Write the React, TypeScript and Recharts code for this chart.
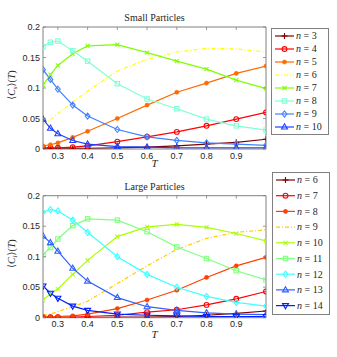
import React from 'react';
import { LineChart, Line, XAxis, YAxis, Legend } from 'recharts';

const T = [0.25, 0.275, 0.3, 0.35, 0.4, 0.5, 0.6, 0.7, 0.8, 0.9, 1.0];
const xTicks = [0.3, 0.4, 0.5, 0.6, 0.7, 0.8, 0.9];
const yTicks = [0, 0.05, 0.1, 0.15, 0.2];

// Small particles
const s3 = [0.001, 0.001, 0.001, 0.001, 0.001, 0.002, 0.003, 0.005, 0.008, 0.011, 0.016];
const s4 = [0.002, 0.002, 0.002, 0.003, 0.005, 0.012, 0.020, 0.028, 0.038, 0.049, 0.060];
const s5 = [0.005, 0.007, 0.010, 0.019, 0.029, 0.050, 0.072, 0.093, 0.108, 0.124, 0.136];
const s6 = [0.040, 0.048, 0.058, 0.077, 0.095, 0.128, 0.147, 0.159, 0.165, 0.164, 0.159];
const s7 = [0.105, 0.122, 0.137, 0.156, 0.169, 0.171, 0.158, 0.144, 0.131, 0.113, 0.099];
const s8 = [0.168, 0.175, 0.177, 0.161, 0.144, 0.107, 0.082, 0.066, 0.049, 0.038, 0.031];
const s9 = [0.130, 0.114, 0.098, 0.072, 0.054, 0.032, 0.020, 0.014, 0.010, 0.008, 0.006];
const s10 = [0.049, 0.034, 0.025, 0.014, 0.008, 0.004, 0.003, 0.002, 0.002, 0.002, 0.002];

// Large particles
const l6 = [0, 0, 0, 0, 0, 0.001, 0.001, 0.002, 0.004, 0.007, 0.011];
const l7 = [0.001, 0.001, 0.001, 0.001, 0.002, 0.004, 0.009, 0.013, 0.021, 0.031, 0.043];
const l8 = [0.001, 0.001, 0.002, 0.003, 0.006, 0.015, 0.029, 0.045, 0.066, 0.085, 0.099];
const l9 = [0.004, 0.006, 0.010, 0.018, 0.027, 0.056, 0.085, 0.112, 0.130, 0.140, 0.144];
const l10 = [0.029, 0.039, 0.047, 0.071, 0.094, 0.133, 0.149, 0.153, 0.148, 0.138, 0.126];
const l11 = [0.103, 0.115, 0.129, 0.151, 0.162, 0.160, 0.141, 0.116, 0.097, 0.077, 0.062];
const l12 = [0.173, 0.177, 0.175, 0.160, 0.140, 0.100, 0.071, 0.050, 0.035, 0.025, 0.019];
const l13 = [0.134, 0.123, 0.109, 0.081, 0.060, 0.033, 0.018, 0.012, 0.008, 0.006, 0.005];
const l14 = [0.052, 0.040, 0.032, 0.019, 0.012, 0.006, 0.004, 0.003, 0.002, 0.002, 0.002];

type SeriesDef = { key: string; n: string; values: number[]; color: string; marker: string; dash?: string };

const smallSeries: SeriesDef[] = [
  { key: 'n3', n: '3', values: s3, color: '#800000', marker: 'plus' },
  { key: 'n4', n: '4', values: s4, color: '#ff0000', marker: 'circle' },
  { key: 'n5', n: '5', values: s5, color: '#ff6a00', marker: 'dot' },
  { key: 'n6', n: '6', values: s6, color: '#ffff00', marker: 'none', dash: '4 2 1 2' },
  { key: 'n7', n: '7', values: s7, color: '#80ff00', marker: 'x' },
  { key: 'n8', n: '8', values: s8, color: '#7fffd4', marker: 'square' },
  { key: 'n9', n: '9', values: s9, color: '#4080ff', marker: 'diamond' },
  { key: 'n10', n: '10', values: s10, color: '#2040ff', marker: 'tri' },
];

const largeSeries: SeriesDef[] = [
  { key: 'n6', n: '6', values: l6, color: '#800000', marker: 'plus' },
  { key: 'n7', n: '7', values: l7, color: '#ff0000', marker: 'circle' },
  { key: 'n8', n: '8', values: l8, color: '#ff4000', marker: 'dot' },
  { key: 'n9', n: '9', values: l9, color: '#ffcc00', marker: 'none', dash: '4 2 1 2' },
  { key: 'n10', n: '10', values: l10, color: '#aaff00', marker: 'x' },
  { key: 'n11', n: '11', values: l11, color: '#80ff80', marker: 'square' },
  { key: 'n12', n: '12', values: l12, color: '#40ffff', marker: 'diamond' },
  { key: 'n13', n: '13', values: l13, color: '#3060ff', marker: 'tri' },
  { key: 'n14', n: '14', values: l14, color: '#0020ff', marker: 'trid' },
];

const buildData = (series: SeriesDef[]) =>
  T.map((t, i) => {
    const row: any = { T: t };
    series.forEach((s) => (row[s.key] = s.values[i]));
    return row;
  });

const smallData = buildData(smallSeries);
const largeData = buildData(largeSeries);

const AXIS = '#808080';
const TXT = '#262626';
const SANS = '"Liberation Sans", Arial, sans-serif';
const SERIF = '"Liberation Serif", "DejaVu Serif", serif';

function Marker({ type, cx, cy, color }: { type: string; cx: number; cy: number; color: string }) {
  const sw = 1.1;
  switch (type) {
    case 'plus':
      return (
        <g stroke={color} strokeWidth={sw}>
          <line x1={cx - 3} x2={cx + 3} y1={cy} y2={cy} />
          <line x1={cx} x2={cx} y1={cy - 3} y2={cy + 3} />
        </g>
      );
    case 'circle':
      return <circle cx={cx} cy={cy} r={2.4} fill="none" stroke={color} strokeWidth={sw} />;
    case 'dot':
      return <circle cx={cx} cy={cy} r={2.1} fill={color} stroke={color} strokeWidth={0.5} />;
    case 'x':
      return (
        <g stroke={color} strokeWidth={sw}>
          <line x1={cx - 2} x2={cx + 2} y1={cy - 2} y2={cy + 2} />
          <line x1={cx - 2} x2={cx + 2} y1={cy + 2} y2={cy - 2} />
        </g>
      );
    case 'square':
      return <rect x={cx - 2.2} y={cy - 2.2} width={4.4} height={4.4} fill="none" stroke={color} strokeWidth={sw} />;
    case 'diamond':
      return (
        <polygon
          points={`${cx},${cy - 3} ${cx + 2.4},${cy} ${cx},${cy + 3} ${cx - 2.4},${cy}`}
          fill="none"
          stroke={color}
          strokeWidth={sw}
        />
      );
    case 'tri':
      return (
        <polygon
          points={`${cx},${cy - 3.2} ${cx + 3},${cy + 2} ${cx - 3},${cy + 2}`}
          fill="none"
          stroke={color}
          strokeWidth={sw}
        />
      );
    case 'trid':
      return (
        <polygon
          points={`${cx},${cy + 3.2} ${cx + 3},${cy - 2} ${cx - 3},${cy - 2}`}
          fill="none"
          stroke={color}
          strokeWidth={sw}
        />
      );
    default:
      return null;
  }
}

const XTickBottom = (props: any) => {
  const { x, y, payload } = props;
  return (
    <g>
      <line x1={x} x2={x} y1={y} y2={y - 3} stroke={AXIS} strokeWidth={0.8} />
      <text x={x} y={y + 9.5} textAnchor="middle" fontSize={9} fontFamily={SANS} fill={TXT}>
        {String(payload.value)}
      </text>
    </g>
  );
};

const XTickTop = (props: any) => {
  const { x, y } = props;
  return <line x1={x} x2={x} y1={y} y2={y + 3} stroke={AXIS} strokeWidth={0.8} />;
};

const YTickLeft = (props: any) => {
  const { x, y, payload } = props;
  return (
    <g>
      <line x1={x} x2={x + 3} y1={y} y2={y} stroke={AXIS} strokeWidth={0.8} />
      <text x={x - 3} y={y} dy="0.35em" textAnchor="end" fontSize={9} fontFamily={SANS} fill={TXT}>
        {String(payload.value)}
      </text>
    </g>
  );
};

const YTickRight = (props: any) => {
  const { x, y } = props;
  return <line x1={x} x2={x - 3} y1={y} y2={y} stroke={AXIS} strokeWidth={0.8} />;
};

const TitleLabel = (props: any) => {
  const { viewBox, title } = props;
  const vb = viewBox || { x: 0, y: 0, width: 0, height: 0 };
  return (
    <text x={vb.x + vb.width / 2} y={vb.y + vb.height - 6} textAnchor="middle" fontSize={10} fontFamily={SERIF} fill={TXT}>
      {title}
    </text>
  );
};

const TLabel = (props: any) => {
  const { viewBox, dy } = props;
  const vb = viewBox || { x: 0, y: 0, width: 0, height: 0 };
  return (
    <text x={vb.x + vb.width / 2} y={vb.y + dy} textAnchor="middle" fontSize={11} fontStyle="italic" fontFamily={SERIF} fill={TXT}>
      T
    </text>
  );
};

const YLabel = (props: any) => {
  const { viewBox, sub } = props;
  const vb = viewBox || { x: 0, y: 0, width: 0, height: 0 };
  const cx = 15;
  const cy = vb.y + vb.height / 2 - 3;
  return (
    <text
      transform={`translate(${cx},${cy}) rotate(-90)`}
      textAnchor="middle"
      fontSize={10}
      fontFamily={SERIF}
      fill={TXT}
    >
      <tspan>⟨</tspan>
      <tspan fontStyle="italic">C</tspan>
      <tspan fontStyle="italic" fontSize={7} dy={2}>{sub}</tspan>
      <tspan dy={-2}>⟩(</tspan>
      <tspan fontStyle="italic">T</tspan>
      <tspan>)</tspan>
    </text>
  );
};

const LegendBox = ({ series, w, h, firstY, step }: { series: SeriesDef[]; w: number; h: number; firstY: number; step: number }) => (
  <svg width={w} height={h} style={{ display: 'block' }}>
    <rect x={0.5} y={0.5} width={w - 1} height={h - 1} fill="#ffffff" stroke={AXIS} strokeWidth={1} />
    {series.map((s, i) => {
      const y = firstY + i * step;
      return (
        <g key={s.key}>
          <line x1={4} x2={23} y1={y} y2={y} stroke={s.color} strokeWidth={1.2} strokeDasharray={s.dash} />
          <Marker type={s.marker} cx={13.5} cy={y} color={s.color} />
          <text x={25} y={y} dy="0.33em" fontSize={10} fontFamily={SERIF} fill={TXT}>
            <tspan fontStyle="italic">n</tspan>
            <tspan> = {s.n}</tspan>
          </text>
        </g>
      );
    })}
  </svg>
);

function Panel({
  data,
  series,
  height,
  margin,
  title,
  sub,
  tDy,
  legendPos,
}: {
  data: any[];
  series: SeriesDef[];
  height: number;
  margin: any;
  title: string;
  sub: string;
  tDy: number;
  legendPos: { left: number; top: number; w: number; h: number; firstY: number; step: number };
}) {
  return (
    <LineChart width={337} height={height} data={data} margin={margin}>
      <XAxis
        dataKey="T"
        type="number"
        domain={[0.25, 1]}
        ticks={xTicks}
        interval={0}
        height={18}
        stroke={AXIS}
        tickSize={0}
        tickMargin={0}
        tickLine={false}
        tick={<XTickBottom />}
        allowDataOverflow
        label={<TLabel dy={tDy} />}
      />
      <XAxis
        xAxisId="top"
        orientation="top"
        dataKey="T"
        type="number"
        domain={[0.25, 1]}
        ticks={xTicks}
        interval={0}
        height={1}
        stroke={AXIS}
        tickSize={0}
        tickMargin={0}
        tickLine={false}
        tick={<XTickTop />}
        allowDataOverflow
        label={<TitleLabel title={title} />}
      />
      <YAxis
        type="number"
        domain={[0, 0.2]}
        ticks={yTicks}
        interval={0}
        width={35}
        stroke={AXIS}
        tickSize={0}
        tickMargin={0}
        tickLine={false}
        tick={<YTickLeft />}
        allowDataOverflow
        label={<YLabel sub={sub} />}
      />
      <YAxis
        yAxisId="right"
        orientation="right"
        type="number"
        domain={[0, 0.2]}
        ticks={yTicks}
        interval={0}
        width={1}
        stroke={AXIS}
        tickSize={0}
        tickMargin={0}
        tickLine={false}
        tick={<YTickRight />}
        allowDataOverflow
      />
      <Legend
        layout="horizontal"
        align="center"
        verticalAlign="middle"
        wrapperStyle={{ left: legendPos.left, top: legendPos.top, width: legendPos.w, height: legendPos.h }}
        content={() => (
          <LegendBox series={series} w={legendPos.w} h={legendPos.h} firstY={legendPos.firstY} step={legendPos.step} />
        )}
      />
      {series.map((s) => (
        <Line
          key={s.key}
          dataKey={s.key}
          name={`n = ${s.n}`}
          stroke={s.color}
          strokeWidth={1.2}
          strokeDasharray={s.dash}
          isAnimationActive={false}
          dot={
            s.marker === 'none'
              ? false
              : (p: any) => <Marker key={`${s.key}-${p.index}`} type={s.marker} cx={p.cx} cy={p.cy} color={s.color} />
          }
          activeDot={false}
        />
      ))}
    </LineChart>
  );
}

export default function App() {
  return (
    <div style={{ position: 'absolute', left: 0, top: 0, width: 337, height: 357, background: '#ffffff', overflow: 'hidden' }}>
      <div style={{ position: 'absolute', left: 0, top: 0 }}>
        <Panel
          data={smallData}
          series={smallSeries}
          height={170}
          margin={{ top: 26, right: 70, bottom: 3, left: 8 }}
          title="Small Particles"
          sub="s"
          tDy={18}
          legendPos={{ left: 271, top: 28, w: 58, h: 107, firstY: 8, step: 13 }}
        />
      </div>
      <div style={{ position: 'absolute', left: 0, top: 170 }}>
        <Panel
          data={largeData}
          series={largeSeries}
          height={187}
          margin={{ top: 24.7, right: 70, bottom: 21.3, left: 8 }}
          title="Large Particles"
          sub="l"
          tDy={20.5}
          legendPos={{ left: 272, top: 2, w: 58, h: 143, firstY: 8, step: 15.7 }}
        />
      </div>
    </div>
  );
}
